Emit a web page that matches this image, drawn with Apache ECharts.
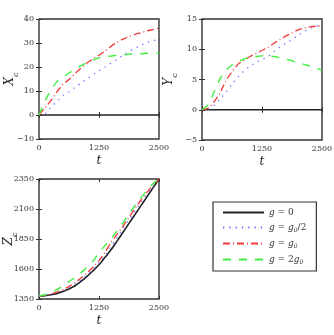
<!DOCTYPE html>
<html><head><meta charset="utf-8">
<script src="https://cdn.jsdelivr.net/npm/echarts@6/dist/echarts.min.js"></script>
<style>html,body{margin:0;padding:0;background:#fff}#c{width:334px;height:335px}</style>
</head><body><div id="c"></div>
<script>
const t = [0,125,250,375,500,625,750,875,1000,1125,1250,1375,1500,1625,1750,1875,2000,2125,2250,2375,2500];
const seriesNames = ['g = 0','g = g0/2','g = g0','g = 2g0'];
const xTicks = [0,1250,2500];
// X_c
const X_g0   = t.map(()=>0);
const X_half = [0,0.6,3.2,5.7,8.0,9.7,11.5,13.3,15.1,16.7,18.4,20.0,21.6,23.2,24.9,26.5,27.8,29.0,30.2,31.0,31.5];
const X_one  = [0,3.0,6.1,9.7,12.8,14.8,17.3,19.6,21.7,23.3,24.9,26.6,28.6,30.3,31.6,32.7,33.6,34.3,35.0,35.6,36.2];
const X_two  = [0,5.8,10.4,13.9,15.8,17.5,19.1,20.6,21.8,22.9,23.8,24.3,24.6,24.9,25.1,25.3,25.4,25.5,25.7,25.8,25.8];
// Y_c
const Y_g0   = t.map(()=>0);
const Y_half = [0,0.1,0.7,1.8,2.9,4.2,5.4,6.4,7.2,7.8,8.3,8.8,9.6,10.4,11.0,11.6,12.3,12.9,13.4,13.8,14.1];
const Y_one  = [0,0.25,1.3,2.8,4.8,6.3,7.5,8.2,8.8,9.3,9.8,10.3,11.0,11.6,12.2,12.7,13.2,13.5,13.7,13.8,13.8];
const Y_two  = [0,0.8,2.9,5.1,6.5,7.4,7.9,8.4,8.6,8.8,8.9,8.9,8.8,8.6,8.4,8.1,7.8,7.5,7.2,6.9,6.5];
// Z_c
const Z_g0   = [1375,1378,1386,1397,1412,1433,1460,1496,1538,1585,1635,1697,1760,1832,1906,1980,2054,2128,2202,2276,2350];
const Z_half = [1375,1379,1389,1403,1420,1444,1474,1510,1552,1598,1652,1715,1785,1862,1938,2012,2085,2155,2223,2288,2350];
const Z_one  = [1375,1380,1392,1408,1428,1455,1488,1525,1568,1615,1670,1740,1820,1888,1958,2030,2105,2175,2240,2298,2350];
const Z_two  = [1375,1385,1402,1428,1460,1495,1530,1570,1615,1665,1735,1795,1853,1915,1985,2060,2130,2195,2255,2310,2355];
const yTicksX = [-10,0,10,20,30,40];
const yTicksY = [-5,0,5,10,15];
const yTicksZ = [1350,1600,1850,2100,2350];

const FONT = 'DejaVu Serif';
const styles = [
  {color:'#222', width:1.6, type:'solid'},
  {color:'#6f6fff', width:1.3, type:[1.3,5]},
  {color:'#f03a3a', width:1.3, type:[7,3,1,3]},
  {color:'#3fef3f', width:1.4, type:[8,8]}
];
const gridBase = {show:true, borderColor:'#333', borderWidth:1.4, containLabel:false, outerBoundsMode:'none'};
const grids = [
  Object.assign({left:39, top:19, width:120, height:120}, gridBase),
  Object.assign({left:202, top:19, width:120, height:121}, gridBase),
  Object.assign({left:39, top:179, width:120, height:120}, gridBase)
];
function fmtNum(v){ return v<0 ? '\u2212'+Math.abs(v) : String(v); }
const xAxes = [], yAxes = [];
const ySpecs = [
  {min:-10,max:40,interval:10,name:'{a|X}{b|c}',gap:23},
  {min:-5,max:15,interval:5,name:'{a|Y}{b|c}',gap:27},
  {min:1350,max:2350,interval:250,name:'{a|Z}{b|c}',gap:24}
];
const nameRich = {a:{fontFamily:FONT,fontStyle:'italic',fontSize:12,color:'#222'},b:{fontFamily:FONT,fontStyle:'italic',fontSize:8,color:'#222',verticalAlign:'bottom',padding:[0,0,-4,0]}};
for (let g=0; g<3; g++){
  xAxes.push({type:'value',gridIndex:g,min:0,max:2500,interval:1250,position:'bottom',
    axisLine:{show:false},splitLine:{show:false},
    axisTick:{inside:true,length:3,lineStyle:{color:'#333'}},
    axisLabel:{fontFamily:FONT,fontSize:8,color:'#333',margin:5,formatter:fmtNum},
    name:'t',nameLocation:'middle',nameGap:16,nameMoveOverlap:false,
    nameTextStyle:{fontFamily:FONT,fontStyle:'italic',fontSize:12,color:'#222'}});
  xAxes.push({type:'value',gridIndex:g,min:0,max:2500,interval:1250,position:'top',
    axisLine:{show:false},splitLine:{show:false},axisLabel:{show:false},
    axisTick:{inside:true,length:3,lineStyle:{color:'#333'}}});
  const s = ySpecs[g];
  yAxes.push({type:'value',gridIndex:g,min:s.min,max:s.max,interval:s.interval,position:'left',
    axisLine:{show:false},splitLine:{show:false},
    axisTick:{inside:true,length:3,lineStyle:{color:'#333'}},
    axisLabel:{fontFamily:FONT,fontSize:8,color:'#333',margin:5,formatter:fmtNum},
    name:s.name,nameLocation:'middle',nameGap:s.gap,nameRotate:90,nameMoveOverlap:false,
    nameTextStyle:{rich:nameRich}});
  yAxes.push({type:'value',gridIndex:g,min:s.min,max:s.max,interval:s.interval,position:'right',
    axisLine:{show:false},splitLine:{show:false},axisLabel:{show:false},
    axisTick:{inside:true,length:3,lineStyle:{color:'#333'}}});
}
const data = [[X_g0,X_half,X_one,X_two],[Y_g0,Y_half,Y_one,Y_two],[Z_g0,Z_half,Z_one,Z_two]];
const series = [];
for (let g=0; g<3; g++){
  const order = [1,2,3,0];
  for (const k of order){
    series.push({type:'line',name:seriesNames[k],xAxisIndex:2*g,yAxisIndex:2*g,
      data:t.map((tt,i)=>[tt,data[g][k][i]]),symbol:'none',smooth:0.3,clip:true,
      lineStyle:{color:styles[k].color,width:styles[k].width,type:styles[k].type},
      itemStyle:{color:styles[k].color},z:k===0?1:2,silent:true,animation:false});
  }
}
const legendRich = {i:{fontFamily:FONT,fontStyle:'italic',fontSize:9,color:'#333'},n:{fontFamily:FONT,fontSize:9,color:'#333'},s:{fontFamily:FONT,fontStyle:'italic',fontSize:6,color:'#333',padding:[5,0,0,0]}};
const legendText = {
  'g = 0':'{i|g}{n| = 0}',
  'g = g0/2':'{i|g}{n| = }{i|g}{s|0}{n|/2}',
  'g = g0':'{i|g}{n| = }{i|g}{s|0}',
  'g = 2g0':'{i|g}{n| = 2}{i|g}{s|0}'
};
const chart = echarts.init(document.getElementById('c'),null,{renderer:'canvas'});
chart.setOption({
  animation:false,
  grid:grids, xAxis:xAxes, yAxis:yAxes, series:series,
  legend:{data:seriesNames,orient:'vertical',left:213,top:202,
    padding:[6,10,6,9],itemGap:6,itemWidth:41,itemHeight:10,
    itemStyle:{opacity:0},
    borderColor:'#333',borderWidth:1.2,backgroundColor:'#fff',selectedMode:false,
    formatter:n=>legendText[n],textStyle:{rich:legendRich,fontFamily:FONT,fontSize:9}}
});
</script></body></html>
